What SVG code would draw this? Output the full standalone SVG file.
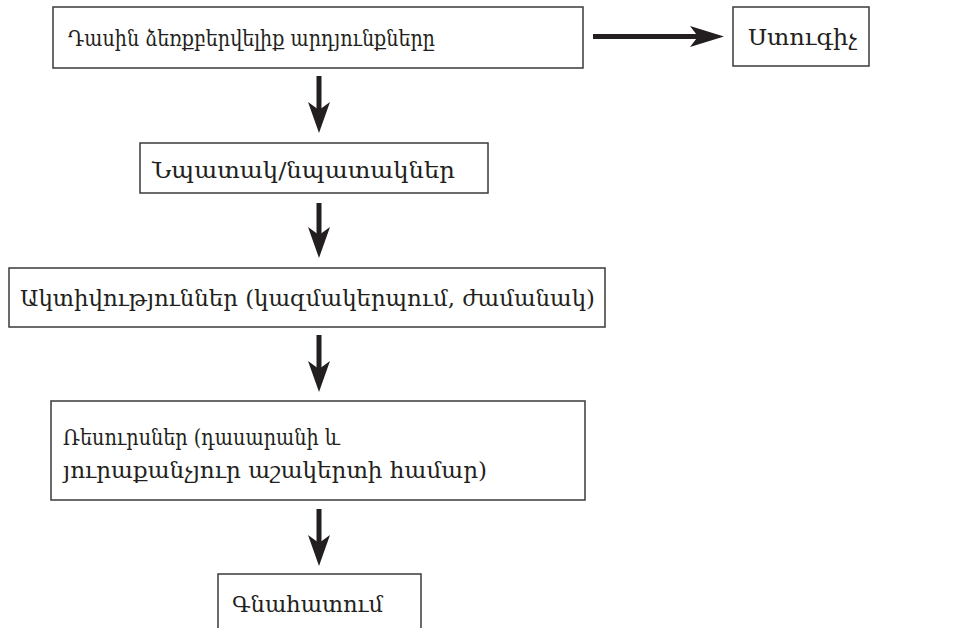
<svg xmlns="http://www.w3.org/2000/svg" width="969" height="628" viewBox="0 0 969 628">
<style>
.box{fill:#fff;stroke:#3a3a3a;stroke-width:1.5}
.t{font-family:"DejaVu Serif","Liberation Serif",serif;font-size:22px;fill:#231f20}
.sh{stroke:#231f20;stroke-width:5;fill:none}
.hd{fill:#231f20}
</style>
<rect width="969" height="628" fill="#fff"/>
<g id="n1"><rect class="box" x="53" y="7" width="530" height="61"/><text class="t" x="68" y="46" textLength="367" lengthAdjust="spacingAndGlyphs">Դասին ձեռքբերվելիք արդյունքները</text></g>
<g id="n2"><rect class="box" x="733" y="7" width="136" height="59"/><text class="t" x="748" y="45" textLength="109" lengthAdjust="spacingAndGlyphs">Ստուգիչ</text></g>
<g id="n3"><rect class="box" x="140" y="143" width="348" height="50"/><text class="t" x="152" y="178" textLength="303" lengthAdjust="spacingAndGlyphs">Նպատակ/նպատակներ</text></g>
<g id="n4"><rect class="box" x="9" y="268" width="596" height="59"/><text class="t" x="20" y="306" textLength="575" lengthAdjust="spacingAndGlyphs">Ակտիվություններ (կազմակերպում, ժամանակ)</text></g>
<g id="n5"><rect class="box" x="51" y="401" width="534" height="99"/><text class="t" x="63" y="445" textLength="277" lengthAdjust="spacingAndGlyphs">Ռեսուրսներ (դասարանի և</text><text class="t" x="63" y="478" textLength="424" lengthAdjust="spacingAndGlyphs">յուրաքանչյուր աշակերտի համար)</text></g>
<g id="n6"><rect class="box" x="218" y="574" width="203" height="60"/><text class="t" x="232" y="612" textLength="151" lengthAdjust="spacingAndGlyphs">Գնահատում</text></g>
<g id="connectors">
<line class="sh" x1="593" y1="36.5" x2="700" y2="36.5"/><path class="hd" d="M724,36.5 L690,26 L698,36.5 L690,47 Z"/>
<line class="sh" x1="319" y1="76" x2="319" y2="110"/><path class="hd" d="M319,133 L308,102 L319,110 L330,102 Z"/>
<line class="sh" x1="319" y1="203" x2="319" y2="235"/><path class="hd" d="M319,258 L308,227 L319,235 L330,227 Z"/>
<line class="sh" x1="319" y1="335" x2="319" y2="369"/><path class="hd" d="M319,392 L308,361 L319,369 L330,361 Z"/>
<line class="sh" x1="319" y1="509" x2="319" y2="543"/><path class="hd" d="M319,566 L308,535 L319,543 L330,535 Z"/>
</g>
</svg>
